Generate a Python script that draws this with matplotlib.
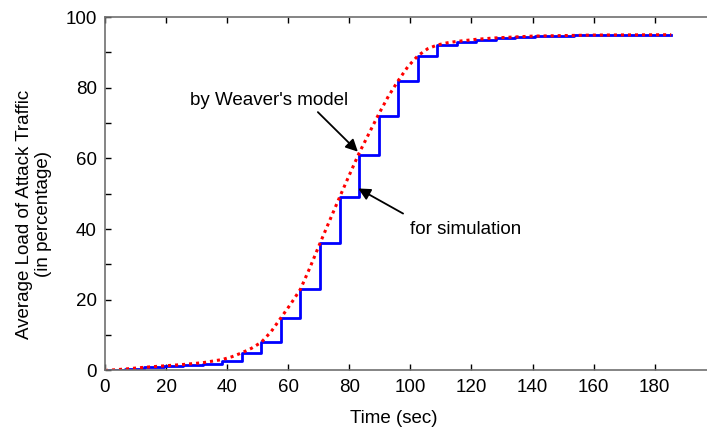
import matplotlib
matplotlib.use("Agg")
import matplotlib.pyplot as plt

plt.rcParams['font.family'] = ['Liberation Sans', 'DejaVu Sans']

# simulation: step levels, each level holds from its time until the next one
sim_t = [0, 6.4, 12.8, 19.2, 25.6, 32, 38.4, 44.8, 51.2, 57.6, 64, 70.4, 76.8,
         83.2, 89.6, 96, 102.4, 108.8, 115.2, 121.6, 128, 134.4, 140.8, 147.2,
         153.6, 160, 166.4, 172.8, 179.2, 185.4]
sim_v = [0, 0.4, 0.9, 1.2, 1.5, 1.7, 2.8, 4.9, 8.0, 14.9, 23.0, 36.0, 49.0,
         61.1, 72.0, 81.9, 88.9, 92.0, 93.0, 93.6, 94.1, 94.4, 94.6, 94.7,
         94.8, 94.9, 94.95, 95.0, 95.0, 95.0]

# Weaver's model
model_t = [0, 6.4, 12.8, 19.2, 25.6, 32, 38.4, 41.6, 44.8, 48, 51.2, 54.4, 57.6,
           60.8, 64, 67.2, 70.4, 73.6, 76.8, 80, 83.2, 86.4, 89.6, 92.8, 96,
           99.2, 102.4, 105.6, 108.8, 112, 115.2, 121.6, 128, 140, 160, 185.4]
model_v = [0, 0.4, 0.9, 1.3, 1.7, 2.2, 3.1, 3.9, 5.0, 6.3, 8.0, 11.0, 14.9,
           18.8, 23.0, 29.3, 36.0, 42.5, 49.0, 55.3, 61.5, 67.0, 72.5, 77.6, 82.0,
           86.0, 89.0, 91.0, 92.1, 92.7, 93.1, 93.7, 94.1, 94.6, 94.9, 95.0]

FS = 13.5

fig = plt.figure(figsize=(7.07, 4.30), dpi=100)
ax = fig.add_axes([0.1485, 0.1384, 0.864, 0.822])

ax.step(sim_t, sim_v, where='post', color='#0000ff', linewidth=2.0)
ax.plot(model_t, model_v, color='#ff0000', linestyle=(0, (1, 1.3)), linewidth=2.2)

arrow = dict(arrowstyle='-|>', color='black', lw=1.3, mutation_scale=18,
             shrinkA=0, shrinkB=0)
ax.text(53.7, 76.5, "by Weaver's model", ha='center', va='center', fontsize=FS)
ax.annotate("", xy=(82.8, 61.9), xytext=(69.7, 73.1), arrowprops=arrow)
ax.text(118.1, 40.0, "for simulation", ha='center', va='center', fontsize=FS)
ax.annotate("", xy=(82.9, 51.5), xytext=(97.6, 44.4), arrowprops=arrow)

ax.set_xlim(0, 200)
ax.set_ylim(0, 100)
ax.set_xticks(range(0, 181, 20))
ax.set_yticks(range(0, 101, 20))
ax.set_yticks(range(0, 101, 10), minor=True)
ax.tick_params(which='both', direction='in', top=True, labelsize=FS, length=4,
               width=1, pad=6)
for s in ax.spines.values():
    s.set_color('#707070')
    s.set_linewidth(1.2)

ax.set_xlabel("Time (sec)", fontsize=FS)
ax.xaxis.set_label_coords(0.472, -0.112)
ax.set_ylabel("Average Load of Attack Traffic\n(in percentage)", fontsize=FS)
ax.yaxis.set_label_coords(-0.086, 0.443)

fig.savefig("out.png", dpi=100)
